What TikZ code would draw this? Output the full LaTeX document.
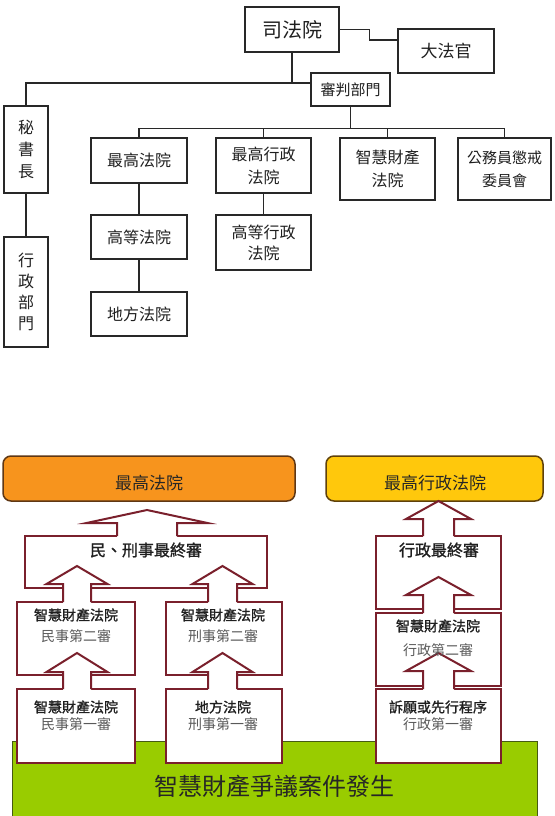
\documentclass[tikz,border=0pt]{standalone}
\usepackage{fontspec}
\newfontfamily\cjk{Noto Sans CJK TC}
\newfontfamily\cjkb{Noto Sans CJK TC}[FakeBold=1.3]
\definecolor{topline}{RGB}{40,40,40}
\definecolor{maroon}{RGB}{122,32,44}
\definecolor{orgfill}{RGB}{247,148,29}
\definecolor{orgdraw}{RGB}{95,55,20}
\definecolor{yelfill}{RGB}{255,200,12}
\definecolor{yeldraw}{RGB}{95,65,10}
\definecolor{grnfill}{RGB}{153,204,0}
\definecolor{grndraw}{RGB}{70,90,20}
\newcommand\fatarrow[6]{%
  \fill[white] (#1-#5,#2+1.5) -- (#1-#5,#3) -- (#1-#6,#3) -- (#1,#4) -- (#1+#6,#3) -- (#1+#5,#3) -- (#1+#5,#2+1.5) -- cycle;
  \draw[arrline] (#1-#5,#2) -- (#1-#5,#3) -- (#1-#6,#3) -- (#1,#4) -- (#1+#6,#3) -- (#1+#5,#3) -- (#1+#5,#2);
}
\tikzset{
  orgbox/.style={draw=topline, line width=1.6pt, fill=white, align=center, inner sep=0pt, text=black!88},
  orgline/.style={draw=topline, line width=1.3pt},
  cbox/.style={draw=maroon, line width=2pt, fill=white, inner sep=0pt},
  arrline/.style={draw=maroon, line width=2pt, line join=miter},
  btxt/.style={font=\cjkb\fontsize{14}{14}\selectfont, text=black!88, inner sep=0pt},
  gtxt/.style={font=\cjk\fontsize{14}{14}\selectfont, text=black!65, inner sep=0pt},
  bigtxt/.style={font=\cjkb\fontsize{16}{16}\selectfont, text=black!88, inner sep=0pt},
}
\begin{document}
\begin{tikzpicture}[x=1pt,y=-1pt]
\useasboundingbox (0,0) rectangle (554,816);
% ---------------- top organisation chart ----------------
\node[orgbox, minimum width=94, minimum height=45, font=\cjk\fontsize{20}{20}\selectfont] (sifa) at (292,29.5) {司法院};
\node[orgbox, minimum width=96, minimum height=44, font=\cjk\fontsize{17}{17}\selectfont] (dafa) at (446,51) {大法官};
\node[orgbox, minimum width=79, minimum height=33, font=\cjk\fontsize{15}{15}\selectfont] (shenpan) at (350.5,89.5) {審判部門};
\node[orgbox, minimum width=44.5, minimum height=87, font=\cjk\fontsize{16}{22}\selectfont] (mishu) at (26,149.5) {秘\\書\\長};
\node[orgbox, minimum width=44, minimum height=110, font=\cjk\fontsize{16}{21}\selectfont] (xzbm) at (26,292) {行\\政\\部\\門};
\node[orgbox, minimum width=96, minimum height=45, font=\cjk\fontsize{16}{16}\selectfont] (zgfy) at (139,160.5) {最高法院};
\node[orgbox, minimum width=95, minimum height=55, font=\cjk\fontsize{16}{23}\selectfont] (zgxz) at (263.5,165.5) {最高行政\\法院};
\node[orgbox, minimum width=95, minimum height=62, font=\cjk\fontsize{16}{23}\selectfont] (zhcc) at (387.5,169) {智慧財產\\法院};
\node[orgbox, minimum width=93, minimum height=62, font=\cjk\fontsize{15}{23}\selectfont] (gwy) at (504.5,169) {公務員懲戒\\委員會};
\node[orgbox, minimum width=96, minimum height=44, font=\cjk\fontsize{16}{16}\selectfont] (gdfy) at (139,237) {高等法院};
\node[orgbox, minimum width=96, minimum height=44, font=\cjk\fontsize{16}{16}\selectfont] (dffy) at (139,314) {地方法院};
\node[orgbox, minimum width=95, minimum height=55, font=\cjk\fontsize{16}{21}\selectfont] (gdxz) at (263.5,242.5) {高等行政\\法院};

\draw[orgline] (sifa.east) -- ++(30,0) |- ([yshift=11pt]dafa.west);
\coordinate (hub) at (sifa.south |- 0,83);
\draw[orgline] (sifa.south) -- (hub);
\draw[orgline] (mishu.north) |- ([yshift=6.5pt]shenpan.west);
\draw[orgline] (mishu.south) -- (xzbm.north);
\draw[orgline] (shenpan.south) -- ++(0,22) coordinate (bus);
\draw[orgline] (zgfy.north) |- (gwy.north |- bus) -- (gwy.north);
\draw[orgline] (zgxz.north) -- (zgxz.north |- bus);
\draw[orgline] (zhcc.north) -- (zhcc.north |- bus);
\draw[orgline] (zgfy.south) -- (gdfy.north);
\draw[orgline] (gdfy.south) -- (dffy.north);
\draw[orgline] (zgxz.south) -- (gdxz.north);

% ---------------- bottom flow chart ----------------
\node[draw=grndraw, line width=0.8pt, fill=grnfill, minimum width=525, minimum height=82, anchor=north west, inner sep=0pt] (green) at (12,741) {};
\node[draw=orgdraw, line width=1.5pt, fill=orgfill, rounded corners=8pt, minimum width=292, minimum height=45, inner sep=0pt] (zg) at (149,478.5) {};
\node[draw=yeldraw, line width=1.5pt, fill=yelfill, rounded corners=8pt, minimum width=217, minimum height=45, inner sep=0pt] (zx) at (434.5,478.5) {};

\node[cbox, minimum width=242, minimum height=52] (A) at (146,562) {};
\node[cbox, minimum width=118, minimum height=73] (B1) at (76,638.5) {};
\node[cbox, minimum width=118, minimum height=74] (C1) at (76,726) {};
\node[cbox, minimum width=116, minimum height=73] (B2) at (224,638.5) {};
\node[cbox, minimum width=116, minimum height=74] (C2) at (224,726) {};
\node[cbox, minimum width=125, minimum height=73] (A3) at (438.5,572.5) {};
\node[cbox, minimum width=125, minimum height=73] (B3) at (438.5,649.5) {};
\node[cbox, minimum width=125, minimum height=74] (C3) at (438.5,726) {};

% fat arrows: cx, base y, wing y, tip y, half shaft, half wing
\fatarrow{147}{536}{523}{510}{30}{60.5}
\fatarrow{77}{602}{584}{566}{14}{30.5}
\fatarrow{77}{689}{672}{653}{14}{30.5}
\fatarrow{222.5}{602}{584}{566}{14.5}{30}
\fatarrow{222.5}{689}{672}{653}{14.5}{30}
\fatarrow{438.5}{536}{519}{501}{15.5}{32.5}
\fatarrow{438.5}{613}{595}{577}{15.5}{32.5}
\fatarrow{438.5}{689}{671}{653}{15.5}{32.5}

% texts
\node[font=\cjk\fontsize{17}{17}\selectfont, text=black!85, inner sep=0pt] (zgtxt) at (149,483) {最高法院};
\node[font=\cjk\fontsize{17}{17}\selectfont, text=black!85, inner sep=0pt] (zxtxt) at (435,483) {最高行政法院};
\node[bigtxt] (Atxt) at (146,550) {民、刑事最終審};
\node[bigtxt] (A3txt) at (439,550) {行政最終審};
\node[btxt] (B1a) at (76,615) {智慧財產法院};
\node[gtxt] (B1b) at (76,636) {民事第二審};
\node[btxt] (C1a) at (76,707) {智慧財產法院};
\node[gtxt] (C1b) at (76,724) {民事第一審};
\node[btxt] (B2a) at (223,615) {智慧財產法院};
\node[gtxt] (B2b) at (223,636) {刑事第二審};
\node[btxt] (C2a) at (223,707) {地方法院};
\node[gtxt] (C2b) at (223,724) {刑事第一審};
\node[btxt] (B3a) at (438,626) {智慧財產法院};
\node[gtxt] (B3b) at (438,650) {行政第二審};
\node[btxt] (C3a) at (438,707) {訴願或先行程序};
\node[gtxt] (C3b) at (438,724) {行政第一審};
\node[font=\cjk\fontsize{24}{24}\selectfont, text=black!85, inner sep=0pt] (greentxt) at (274,786) {智慧財產爭議案件發生};
\end{tikzpicture}
\end{document}
